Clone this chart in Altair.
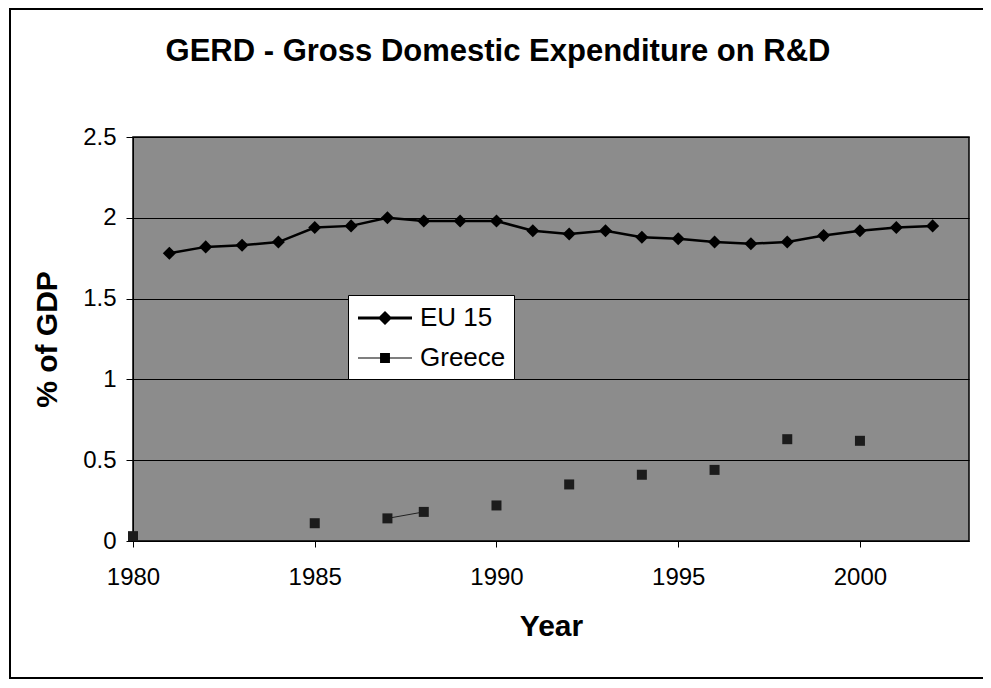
import altair as alt
import pandas as pd

# ---- data ----
eu_years = [1981, 1982, 1983, 1984, 1985, 1986, 1987, 1988, 1989, 1990, 1991,
            1992, 1993, 1994, 1995, 1996, 1997, 1998, 1999, 2000, 2001, 2002]
eu_values = [1.78, 1.82, 1.83, 1.85, 1.94, 1.95, 2.00, 1.98, 1.98, 1.98, 1.92,
             1.90, 1.92, 1.88, 1.87, 1.85, 1.84, 1.85, 1.89, 1.92, 1.94, 1.95]
gr_years = [1980, 1985, 1987, 1988, 1990, 1992, 1994, 1996, 1998, 2000]
gr_values = [0.03, 0.11, 0.14, 0.18, 0.22, 0.35, 0.41, 0.44, 0.63, 0.62]
series_names = ["EU 15", "Greece"]
x_ticks = [1980, 1985, 1990, 1995, 2000]
y_ticks = [0, 0.5, 1, 1.5, 2, 2.5]

FONT = "Liberation Sans"

eu = pd.DataFrame({"year": eu_years, "value": eu_values, "series": series_names[0]})
gr = pd.DataFrame({"year": gr_years, "value": gr_values, "series": series_names[1]})
# Excel-style line: only consecutive years are joined
gr["seg"] = (gr["year"].diff().fillna(99) > 1).cumsum()
both = pd.concat([eu, gr[["year", "value", "series"]]], ignore_index=True)

x_enc = alt.X("year:Q",
              scale=alt.Scale(domain=[1980, 2003], nice=False, zero=False),
              axis=alt.Axis(values=x_ticks, format="d", grid=False, title="Year",
                            labelFlush=False,
                            labelFont=FONT, labelFontSize=24, labelColor="black",
                            labelPadding=18, tickSize=6, tickColor="black",
                            domainColor="black", titleFont=FONT, titleFontSize=30,
                            titleFontWeight="bold", titleColor="black", titlePadding=22))
y_enc = alt.Y("value:Q",
              scale=alt.Scale(domain=[0, 2.5], nice=False),
              axis=alt.Axis(values=y_ticks, format="~g", grid=True, gridColor="black",
                            gridWidth=1, title="% of GDP",
                            labelFont=FONT, labelFontSize=24, labelColor="black",
                            labelPadding=10, tickSize=7, tickColor="black",
                            domainColor="black", titleFont=FONT, titleFontSize=30,
                            titleFontWeight="bold", titleColor="black", titlePadding=20))

eu_line = alt.Chart(eu).mark_line(color="black", strokeWidth=2.5).encode(x=x_enc, y=y_enc)
eu_pts = alt.Chart(eu).mark_point(shape="diamond", filled=True, size=170,
                                  color="black", opacity=1).encode(x=x_enc, y=y_enc)
gr_line = alt.Chart(gr).mark_line(color="#222222", strokeWidth=1).encode(
    x=x_enc, y=y_enc, detail="seg:N")
gr_pts = alt.Chart(gr).mark_square(size=100, color="#1c1c1c", opacity=1).encode(
    x=x_enc, y=y_enc)

path_eu = "M-1.8,-0.1H1.8V0.1H-1.8Z M0,-0.47L0.47,0L0,0.47L-0.47,0Z"
path_gr = "M-1.8,-0.035H1.8V0.035H-1.8Z M-0.33,-0.33H0.33V0.33H-0.33Z"

leg = dict(title=None, orient="none", legendX=215, legendY=158,
           fillColor="white", strokeColor="black",
           padding=8, symbolSize=900, symbolOffset=14,
           symbolOpacity=1, symbolFillColor="black",
           symbolStrokeWidth=0, labelOffset=20, rowPadding=12,
           labelFont=FONT, labelFontSize=26, labelColor="black")

legend_layer = alt.Chart(both).mark_point(filled=True, opacity=0).encode(
    x=x_enc, y=y_enc,
    shape=alt.Shape("series:N", scale=alt.Scale(domain=series_names, range=[path_eu, path_gr]),
                    legend=alt.Legend(**leg)),
    color=alt.Color("series:N", scale=alt.Scale(domain=series_names, range=["black", "black"]),
                    legend=alt.Legend(**leg)),
)

border = alt.Chart(pd.DataFrame({"k": [0]})).mark_rect(
    fill="white", fillOpacity=0, stroke="black", strokeWidth=2).encode(
    x=alt.value(-123), x2=alt.value(854), y=alt.value(-128), y2=alt.value(541))

chart = alt.layer(gr_line, eu_line, eu_pts, gr_pts, legend_layer, border).properties(
    width=836, height=404,
    title=alt.TitleParams("GERD - Gross Domestic Expenditure on R&D", font=FONT,
                          fontSize=31, fontWeight="bold", color="black",
                          anchor="middle", baseline="alphabetic", dx=-53, offset=-84),
    autosize=alt.AutoSizeParams(type="none"),
    padding={"left": 125, "top": 129, "right": 14, "bottom": 139},
    background="white",
).configure_view(fill="#8c8c8c", stroke="black", strokeWidth=1.5)

chart.save("out.html", embed_options={"renderer": "svg", "actions": False})
